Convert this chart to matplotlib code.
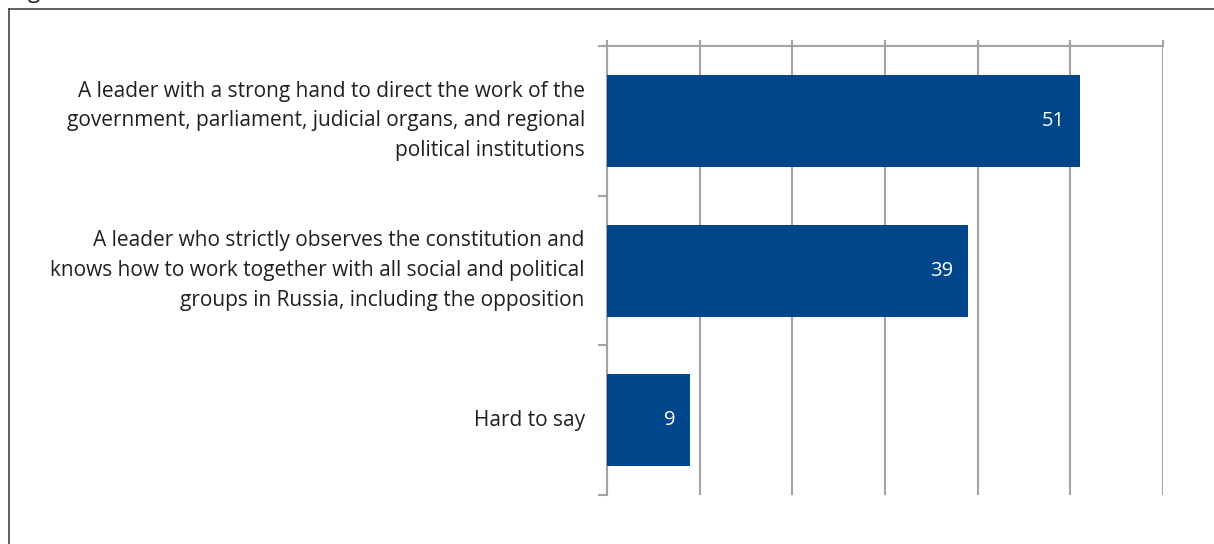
import matplotlib.pyplot as plt
from matplotlib.lines import Line2D

labels = [
    'A leader with a strong hand to direct the work of the\n'
    'government, parliament, judicial organs, and regional\n'
    'political institutions',
    'A leader who strictly observes the constitution and\n'
    'knows how to work together with all social and political\n'
    'groups in Russia, including the opposition',
    'Hard to say',
]
values = [51, 39, 9]
x_ticks = [0, 10, 20, 30, 40, 50, 60]

bar_color = '#00468A'
grid_color = '#A3A3A6'

plt.rcParams['font.family'] = ['Open Sans', 'DejaVu Sans']

fig = plt.figure(figsize=(12.14, 5.44), dpi=100)
ax = fig.add_axes([0.5, 0.090, 0.458, 0.8254])

pos = list(range(len(values)))
ax.barh(pos, values, height=0.615, color=bar_color, zorder=3)
for p, v in zip(pos, values):
    ax.text(v - 1.6, p, str(v), color='white', fontsize=14.5,
            ha='right', va='center', zorder=4)

ax.set_xlim(0, 60)
ax.set_ylim(2.5, -0.5)
ax.set_xticks(x_ticks)
ax.xaxis.tick_top()
ax.tick_params(axis='x', direction='out', length=4.5, width=1.5,
               color=grid_color, labeltop=False, labelbottom=False)
ax.grid(axis='x', color=grid_color, linewidth=1.5, zorder=0)

ax.set_yticks([-0.5, 0.5, 1.5, 2.5])
ax.set_yticklabels([])
ax.tick_params(axis='y', direction='out', length=6.5, width=1.5, color=grid_color)
for p, lab in zip(pos, labels):
    ax.text(-2.4, p, lab, ha='right', va='center', fontsize=15,
            linespacing=1.55, color='#231F20')

for s in ['right', 'bottom']:
    ax.spines[s].set_visible(False)
for s in ['top', 'left']:
    ax.spines[s].set_color(grid_color)
    ax.spines[s].set_linewidth(1.5)

# outer frame (top and left only)
fig.add_artist(Line2D([9 / 1214, 1.0], [1 - 9 / 544, 1 - 9 / 544],
                      color='#444444', linewidth=1.2))
fig.add_artist(Line2D([9 / 1214, 9 / 1214], [0, 1 - 9 / 544],
                      color='#444444', linewidth=1.2))
# descender of cut-off figure title
fig.text(12 / 1214, 1.0 + 2 / 544, 'Figure', fontsize=16, va='baseline',
         ha='left', color='#231F20')

fig.savefig('out.png', dpi=100)
